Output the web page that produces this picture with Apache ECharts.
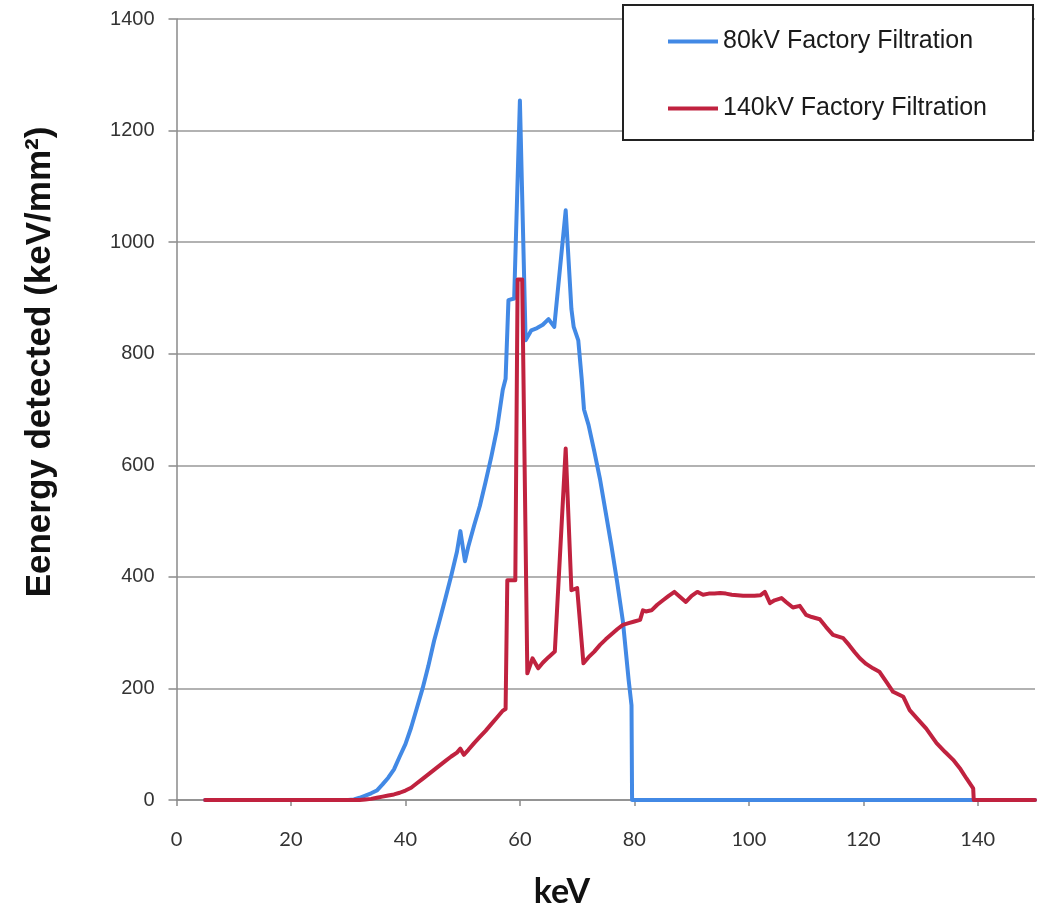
<!DOCTYPE html>
<html>
<head>
<meta charset="utf-8">
<script src="https://cdn.jsdelivr.net/npm/echarts@6/dist/echarts.min.js"></script>
<style>
html,body{margin:0;padding:0;background:#fff;}
#chart{width:1050px;height:919px;}
</style>
</head>
<body>
<div id="chart"></div>
<script>
// Data
const seriesNames = ['80kV Factory Filtration', '140kV Factory Filtration'];
const xTicks = [0, 20, 40, 60, 80, 100, 120, 140];
const yTicks = [0, 200, 400, 600, 800, 1000, 1200, 1400];

const energy80 = [5, 30, 31, 32, 33, 34, 35, 36, 37, 38, 39, 40, 41, 42, 43, 44, 45, 46, 47, 48, 49, 49.6, 50.4, 51, 52, 53, 54, 55, 56, 57, 57.5, 58, 59, 60, 61, 62, 63, 64, 65, 66, 68, 69, 69.4, 70.2, 70.8, 71.2, 72, 73, 74, 75, 76, 77, 78, 79, 79.5, 79.6, 150];
const value80  = [0, 0, 1, 4, 8, 12, 17, 28, 40, 55, 78, 100, 130, 165, 200, 240, 285, 323, 362, 402, 445, 482, 428, 455, 492, 527, 570, 615, 665, 735, 755, 896, 899, 1254, 824, 842, 846, 852, 862, 848, 1057, 880, 848, 824, 755, 700, 672, 625, 575, 515, 455, 390, 320, 215, 170, 0, 0];

const energy140 = [5, 32, 33, 34, 35, 36, 37, 38, 39, 40, 41, 42, 43, 44, 45, 46, 47, 48, 49, 49.6, 50.2, 51, 52, 53, 54, 55, 56, 57, 57.5, 57.8, 59.2, 59.6, 60.4, 61.3, 62.2, 63.2, 64, 65, 66.1, 68, 69, 70, 71.1, 72, 73, 74, 75, 76, 77, 78, 79, 80, 81, 81.5, 82, 83, 84, 85, 86, 87, 88, 89, 90, 91, 92, 93, 94, 95, 96, 97, 98, 99, 100, 101, 102, 102.8, 103.7, 104.5, 105.7, 106.5, 107.7, 108.9, 110, 111, 112.4, 113.5, 114.7, 116.5, 117.5, 118.5, 119.4, 120.5, 121.7, 122.8, 124, 125.2, 127, 128.1, 129.5, 131, 132.8, 134.3, 135.7, 137, 138, 139.2, 139.3, 150];
const value140  = [0, 0, 1, 2, 4, 6, 8, 10, 13, 17, 22, 30, 38, 46, 54, 62, 70, 78, 85, 92, 81, 90, 102, 113, 124, 136, 148, 160, 163, 394, 394, 933, 933, 227, 254, 236, 246, 256, 266, 630, 376, 380, 245, 256, 266, 278, 288, 297, 306, 314, 317, 320, 323, 340, 338, 340, 350, 358, 366, 373, 364, 355, 366, 373, 368, 370, 370, 371, 370, 368, 367, 366, 366, 366, 367, 373, 353, 358, 362, 355, 345, 348, 332, 328, 324, 310, 296, 290, 278, 265, 254, 244, 236, 230, 212, 194, 185, 161, 145, 128, 102, 86, 72, 55, 39, 21, 0, 0];

const xTitle = 'keV';
const yTitle = 'Eenergy detected (keV/mm\u00B2)';

function pairs(xs, ys) { return xs.map((x, i) => [x, ys[i]]); }

const chart = echarts.init(document.getElementById('chart'), null, {renderer: 'canvas'});
chart.setOption({
  animation: false,
  backgroundColor: '#ffffff',
  grid: {left: 176.5, right: 15, top: 19, bottom: 119, containLabel: false},
  legend: {
    orient: 'vertical',
    left: 623, top: 5,
    padding: [24, 46, 19, 45],
    itemGap: 42,
    itemWidth: 50, itemHeight: 4,
    icon: 'rect',
    borderColor: '#222', borderWidth: 2,
    backgroundColor: '#fff',
    textStyle: {fontFamily: 'Liberation Sans, Arial, sans-serif', fontSize: 25, color: '#1a1a1a'},
    data: seriesNames
  },
  xAxis: {
    type: 'value', min: 0, max: 150, interval: 20,
    axisLine: {show: true, lineStyle: {color: '#8a8a8a', width: 1.5}},
    axisTick: {show: true, length: 6, inside: false, lineStyle: {color: '#8a8a8a', width: 1.5}},
    axisLabel: {showMaxLabel: false, margin: 30, fontFamily: 'Lato, Liberation Sans, sans-serif', fontSize: 20, color: '#333',
      formatter: v => (xTicks.indexOf(v) >= 0 ? String(v) : '')},
    splitLine: {show: false}
  },
  yAxis: {
    type: 'value', min: 0, max: 1400, interval: 200,
    axisLine: {show: true, lineStyle: {color: '#8a8a8a', width: 1.5}},
    axisTick: {show: true, length: 8, lineStyle: {color: '#8a8a8a', width: 1.5}},
    axisLabel: {margin: 22, fontFamily: 'Liberation Sans, Arial, sans-serif', fontSize: 20, color: '#333',
      formatter: v => (yTicks.indexOf(v) >= 0 ? String(v) : '')},
    splitLine: {show: true, lineStyle: {color: '#999', width: 1.5}}
  },
  graphic: [
    {type: 'text', x: 562, y: 892, style: {text: xTitle, font: 'bold 34px Lato, Liberation Sans, sans-serif', fill: '#111', align: 'center', verticalAlign: 'middle'}},
    {type: 'text', x: 40, y: 362, rotation: Math.PI / 2, style: {text: yTitle, font: 'bold 35px Liberation Sans, Arial, sans-serif', fill: '#111', align: 'center', verticalAlign: 'middle'}}
  ],
  series: [
    {name: seriesNames[0], type: 'line', data: pairs(energy80, value80), symbol: 'none', smooth: false,
      color: '#4289e5', lineStyle: {width: 4, color: '#4289e5', join: 'round', cap: 'round'}},
    {name: seriesNames[1], type: 'line', data: pairs(energy140, value140), symbol: 'none', smooth: false,
      color: '#c0223f', lineStyle: {width: 4, color: '#c0223f', join: 'round', cap: 'round'}}
  ]
});
</script>
</body>
</html>
